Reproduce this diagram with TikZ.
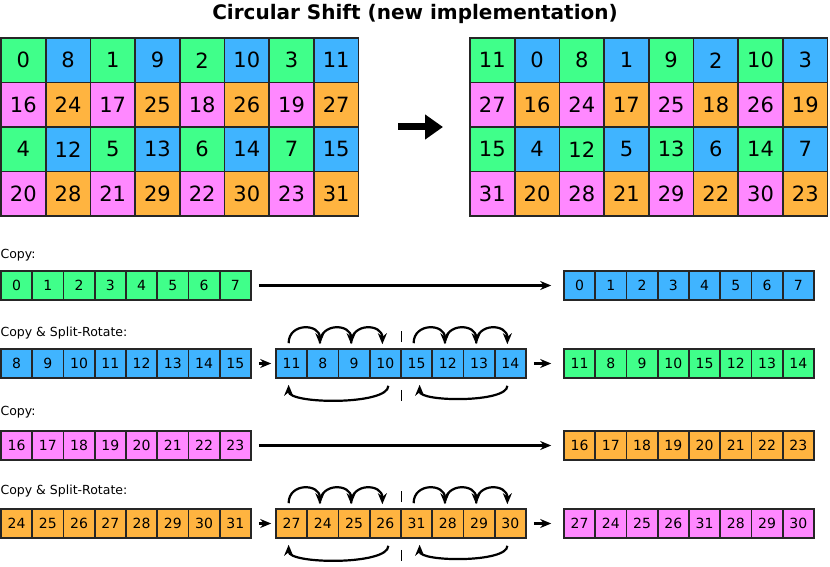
\documentclass[tikz,border=0pt]{standalone}
\usepackage{fontspec}
\setmainfont{DejaVu Sans}
\usetikzlibrary{arrows.meta,positioning}

\definecolor{cg}{HTML}{40FF8A}
\definecolor{cb}{HTML}{40B4FF}
\definecolor{cp}{HTML}{FF88FF}
\definecolor{co}{HTML}{FFB440}

% a row of cells: name, x, y, width, height, font size, list num/colour
\newcommand{\cellrow}[7]{%
  \foreach \n/\c [count=\i] in {#7}
    \node[cell,fill=c\c,minimum width=#4pt,minimum height=#5pt,font=\fontsize{#6}{#6}\selectfont]
      (#1\i) at ({#2+(\i-0.5)*#4},{#3+#5/2}) {\n};}

\begin{document}
\begin{tikzpicture}[x=1pt,y=-1pt,>={Stealth[length=11pt,width=9pt]}]
    \tikzstyle{cell}=[draw=black!85,line width=1.6pt,inner sep=0pt,anchor=center]
    \tikzstyle{lbl}=[anchor=west,font=\fontsize{12.5}{12.5}\selectfont]
    \tikzstyle{swing}=[->,line width=2.2pt]
    \tikzstyle{pass}=[->,line width=2.2pt]
    \useasboundingbox (0,0) rectangle (830,567);

    \node[font=\bfseries\fontsize{20}{20}\selectfont] (title) at (415,14) {Circular Shift (new implementation)};

    % big grids
    \cellrow{a}{1}{38}{44.7}{44.5}{21}{0/g,8/b,1/g,9/b,2/g,10/b,3/g,11/b}
    \cellrow{b}{1}{82.5}{44.7}{44.5}{21}{16/p,24/o,17/p,25/o,18/p,26/o,19/p,27/o}
    \cellrow{c}{1}{127}{44.7}{44.5}{21}{4/g,12/b,5/g,13/b,6/g,14/b,7/g,15/b}
    \cellrow{d}{1}{171.5}{44.7}{44.5}{21}{20/p,28/o,21/p,29/o,22/p,30/o,23/p,31/o}
    \cellrow{e}{470}{38}{44.7}{44.5}{21}{11/g,0/b,8/g,1/b,9/g,2/b,10/g,3/b}
    \cellrow{f}{470}{82.5}{44.7}{44.5}{21}{27/p,16/o,24/p,17/o,25/p,18/o,26/p,19/o}
    \cellrow{g}{470}{127}{44.7}{44.5}{21}{15/g,4/b,12/g,5/b,13/g,6/b,14/g,7/b}
    \cellrow{h}{470}{171.5}{44.7}{44.5}{21}{31/p,20/o,28/p,21/o,29/p,22/o,30/p,23/o}
    \coordinate (bigs) at (398,127);
    \coordinate (bige) at (443,127);
    \draw[line width=7pt,-{Triangle[length=18pt,width=24pt]}] (bigs) -- (bige);

    % small rows
    \node[lbl] (l1) at (-3,255) {Copy:};
    \cellrow{p}{1}{271}{31.25}{29}{14}{0/g,1/g,2/g,3/g,4/g,5/g,6/g,7/g}
    \cellrow{q}{564}{271}{31.25}{29}{14}{0/b,1/b,2/b,3/b,4/b,5/b,6/b,7/b}
    \draw[pass] ([xshift=7pt]p8.east) -- ([xshift=-12pt]q1.west);

    \node[lbl] (l2) at (-3,333) {Copy \& Split-Rotate:};
    \cellrow{r}{1}{349}{31.25}{29}{14}{8/b,9/b,10/b,11/b,12/b,13/b,14/b,15/b}
    \cellrow{s}{276}{349}{31.25}{29}{14}{11/b,8/b,9/b,10/b,15/b,12/b,13/b,14/b}
    \cellrow{t}{564}{349}{31.25}{29}{14}{11/g,8/g,9/g,10/g,15/g,12/g,13/g,14/g}
    \draw[pass] ([xshift=7pt]r8.east) -- ([xshift=-4pt]s1.west);
    \draw[pass] ([xshift=7pt]s8.east) -- ([xshift=-12pt]t1.west);

    \node[lbl] (l3) at (-3,412) {Copy:};
    \cellrow{u}{1}{431}{31.25}{29}{14}{16/p,17/p,18/p,19/p,20/p,21/p,22/p,23/p}
    \cellrow{v}{564}{431}{31.25}{29}{14}{16/o,17/o,18/o,19/o,20/o,21/o,22/o,23/o}
    \draw[pass] ([xshift=7pt]u8.east) -- ([xshift=-12pt]v1.west);

    \node[lbl] (l4) at (-3,491) {Copy \& Split-Rotate:};
    \cellrow{w}{1}{509}{31.25}{29}{14}{24/o,25/o,26/o,27/o,28/o,29/o,30/o,31/o}
    \cellrow{x}{276}{509}{31.25}{29}{14}{27/o,24/o,25/o,26/o,31/o,28/o,29/o,30/o}
    \cellrow{y}{564}{509}{31.25}{29}{14}{27/p,24/p,25/p,26/p,31/p,28/p,29/p,30/p}
    \draw[pass] ([xshift=7pt]w8.east) -- ([xshift=-4pt]x1.west);
    \draw[pass] ([xshift=7pt]x8.east) -- ([xshift=-12pt]y1.west);

    % rotations
    \foreach \m in {s,x} {
      \foreach \i/\j in {1/2,2/3,3/4,5/6,6/7,7/8}
        \draw[swing] ([xshift=-3pt,yshift=5pt]\m\i.north) to[out=90,in=90,looseness=1.7] ([xshift=-3pt,yshift=4pt]\m\j.north);
      \draw[swing] ([xshift=3pt,yshift=-7pt]\m4.south) to[out=-90,in=-90,looseness=0.5] ([xshift=-3pt,yshift=-6pt]\m1.south);
      \draw[swing] ([xshift=-3pt,yshift=-7pt]\m8.south) to[out=-90,in=-90,looseness=0.5] ([xshift=3pt,yshift=-6pt]\m5.south);
      \draw[line width=1.2pt] ([yshift=6pt]\m4.north east) -- ([yshift=17pt]\m4.north east);
      \draw[line width=1.2pt] ([yshift=-11pt]\m4.south east) -- ([yshift=-22pt]\m4.south east);
    }
\end{tikzpicture}
\end{document}
